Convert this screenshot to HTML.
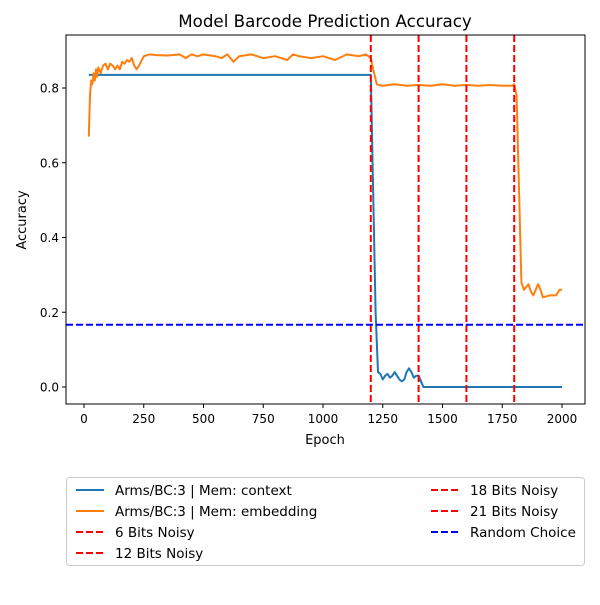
<!DOCTYPE html>
<html><head><meta charset="utf-8"><style>body{margin:0;background:#fff}svg{font-family:"DejaVu Sans","Liberation Sans",sans-serif}</style></head>
<body>
<svg id="c" width="600" height="600">
<rect width="600" height="600" fill="#fff"/>
</svg>
<script>
const epochsBlue=[20,1200,1220,1230,1240,1250,1260,1270,1280,1290,1300,1310,1320,1330,1340,1350,1360,1370,1380,1390,1400,1420,2000];
const valuesBlue=[.835,.835,.2,.04,.035,.02,.03,.035,.025,.03,.04,.03,.02,.015,.02,.04,.05,.04,.025,.03,.03,0,0];
const epochsOrange=[20,25,30,35,40,45,50,55,60,70,80,90,100,110,120,130,140,150,160,170,180,190,200,210,220,230,250,275,300,350,400,425,450,475,500,550,575,600,625,650,700,750,800,850,875,900,950,1000,1050,1100,1150,1180,1200,1210,1225,1250,1300,1350,1400,1450,1500,1550,1600,1650,1700,1750,1790,1800,1810,1830,1840,1860,1870,1880,1900,1910,1920,1950,1975,1990,2000];
const valuesOrange=[.67,.78,.82,.81,.84,.82,.85,.83,.855,.84,.86,.865,.85,.865,.86,.85,.86,.85,.87,.865,.875,.87,.88,.86,.85,.86,.885,.89,.888,.887,.89,.88,.89,.885,.89,.885,.88,.89,.87,.885,.89,.88,.885,.875,.89,.885,.88,.885,.875,.89,.885,.89,.88,.85,.81,.806,.81,.806,.808,.806,.81,.806,.808,.806,.808,.806,.806,.81,.78,.28,.26,.275,.255,.245,.275,.26,.24,.245,.245,.26,.26];
const noisyEpochs=[1200,1400,1600,1800];
const randomChoice=1/6;
const xTicks=[0,250,500,750,1000,1250,1500,1750,2000];
const yTicks=[0,0.2,0.4,0.6,0.8];
const NS="http://www.w3.org/2000/svg";
const svg=document.getElementById('c');
const X=e=>84+e*(562-84)/2000;
const Y=v=>387-v*373.75;
function mk(t,a,p){const el=document.createElementNS(NS,t);for(const k in a)el.setAttribute(k,a[k]);(p||svg).appendChild(el);return el;}
const L=66,R=585,T=35,B=404;
function series(xs,ys,color,name){const d=xs.map((e,i)=>(i?'L':'M')+X(e).toFixed(1)+','+Y(ys[i]).toFixed(1)).join('');
const p=mk('path',{d:d,fill:'none',stroke:color,'stroke-width':2,'stroke-linejoin':'round'});

}
series(epochsBlue,valuesBlue,'#1f77b4','series-context');
series(epochsOrange,valuesOrange,'#ff7f0e','series-embedding');
noisyEpochs.forEach(e=>{const l=mk('line',{x1:X(e),x2:X(e),y1:T,y2:B,stroke:'#ff0000','stroke-width':2,'stroke-dasharray':'7,3'});

});
const rl=mk('line',{x1:L,x2:R,y1:Y(randomChoice),y2:Y(randomChoice),stroke:'#0000ff','stroke-width':2,'stroke-dasharray':'7,3'});


const fr=mk('rect',{x:L,y:T,width:R-L,height:B-T,fill:'none',stroke:'#000','stroke-width':1});


xTicks.forEach(t=>{mk('line',{x1:X(t),x2:X(t),y1:B,y2:B+4,stroke:'#000'});
const tx=mk('text',{x:X(t),y:B+19,'font-size':12,'text-anchor':'middle'});tx.textContent=t;

});
yTicks.forEach(t=>{mk('line',{x1:L-4,x2:L,y1:Y(t),y2:Y(t),stroke:'#000'});
const tx=mk('text',{x:L-7,y:Y(t)+4.5,'font-size':12,'text-anchor':'end'});tx.textContent=t.toFixed(1);

});
const ti=mk('text',{x:325,y:27,'font-size':16.7,'text-anchor':'middle'});ti.textContent='Model Barcode Prediction Accuracy';


const xl=mk('text',{x:325,y:444,'font-size':13,'text-anchor':'middle'});xl.textContent='Epoch';


const yl=mk('text',{x:0,y:0,'font-size':13,'text-anchor':'middle',transform:'translate(26,220) rotate(-90)'});yl.textContent='Accuracy';


const lg=mk('g',{});


mk('rect',{x:66.5,y:477.5,width:518,height:88,rx:3,fill:'#fff',stroke:'#ccc'},lg);
const entries=[[76,490,'#1f77b4',false,'Arms/BC:3 | Mem: context'],[76,511,'#ff7f0e',false,'Arms/BC:3 | Mem: embedding'],[76,532,'#ff0000',true,'6 Bits Noisy'],[76,553,'#ff0000',true,'12 Bits Noisy'],[431,490,'#ff0000',true,'18 Bits Noisy'],[431,511,'#ff0000',true,'21 Bits Noisy'],[431,532,'#0000ff',true,'Random Choice']];
entries.forEach(en=>{const g=mk('g',{},lg);


const a={x1:en[0],x2:en[0]+28,y1:en[1],y2:en[1],stroke:en[2],'stroke-width':2};
if(en[3])a['stroke-dasharray']='7,3';
mk('line',a,g);const t=mk('text',{x:en[0]+39,y:en[1]+5,'font-size':13.5},g);t.textContent=en[4];});
</script>
</body></html>
